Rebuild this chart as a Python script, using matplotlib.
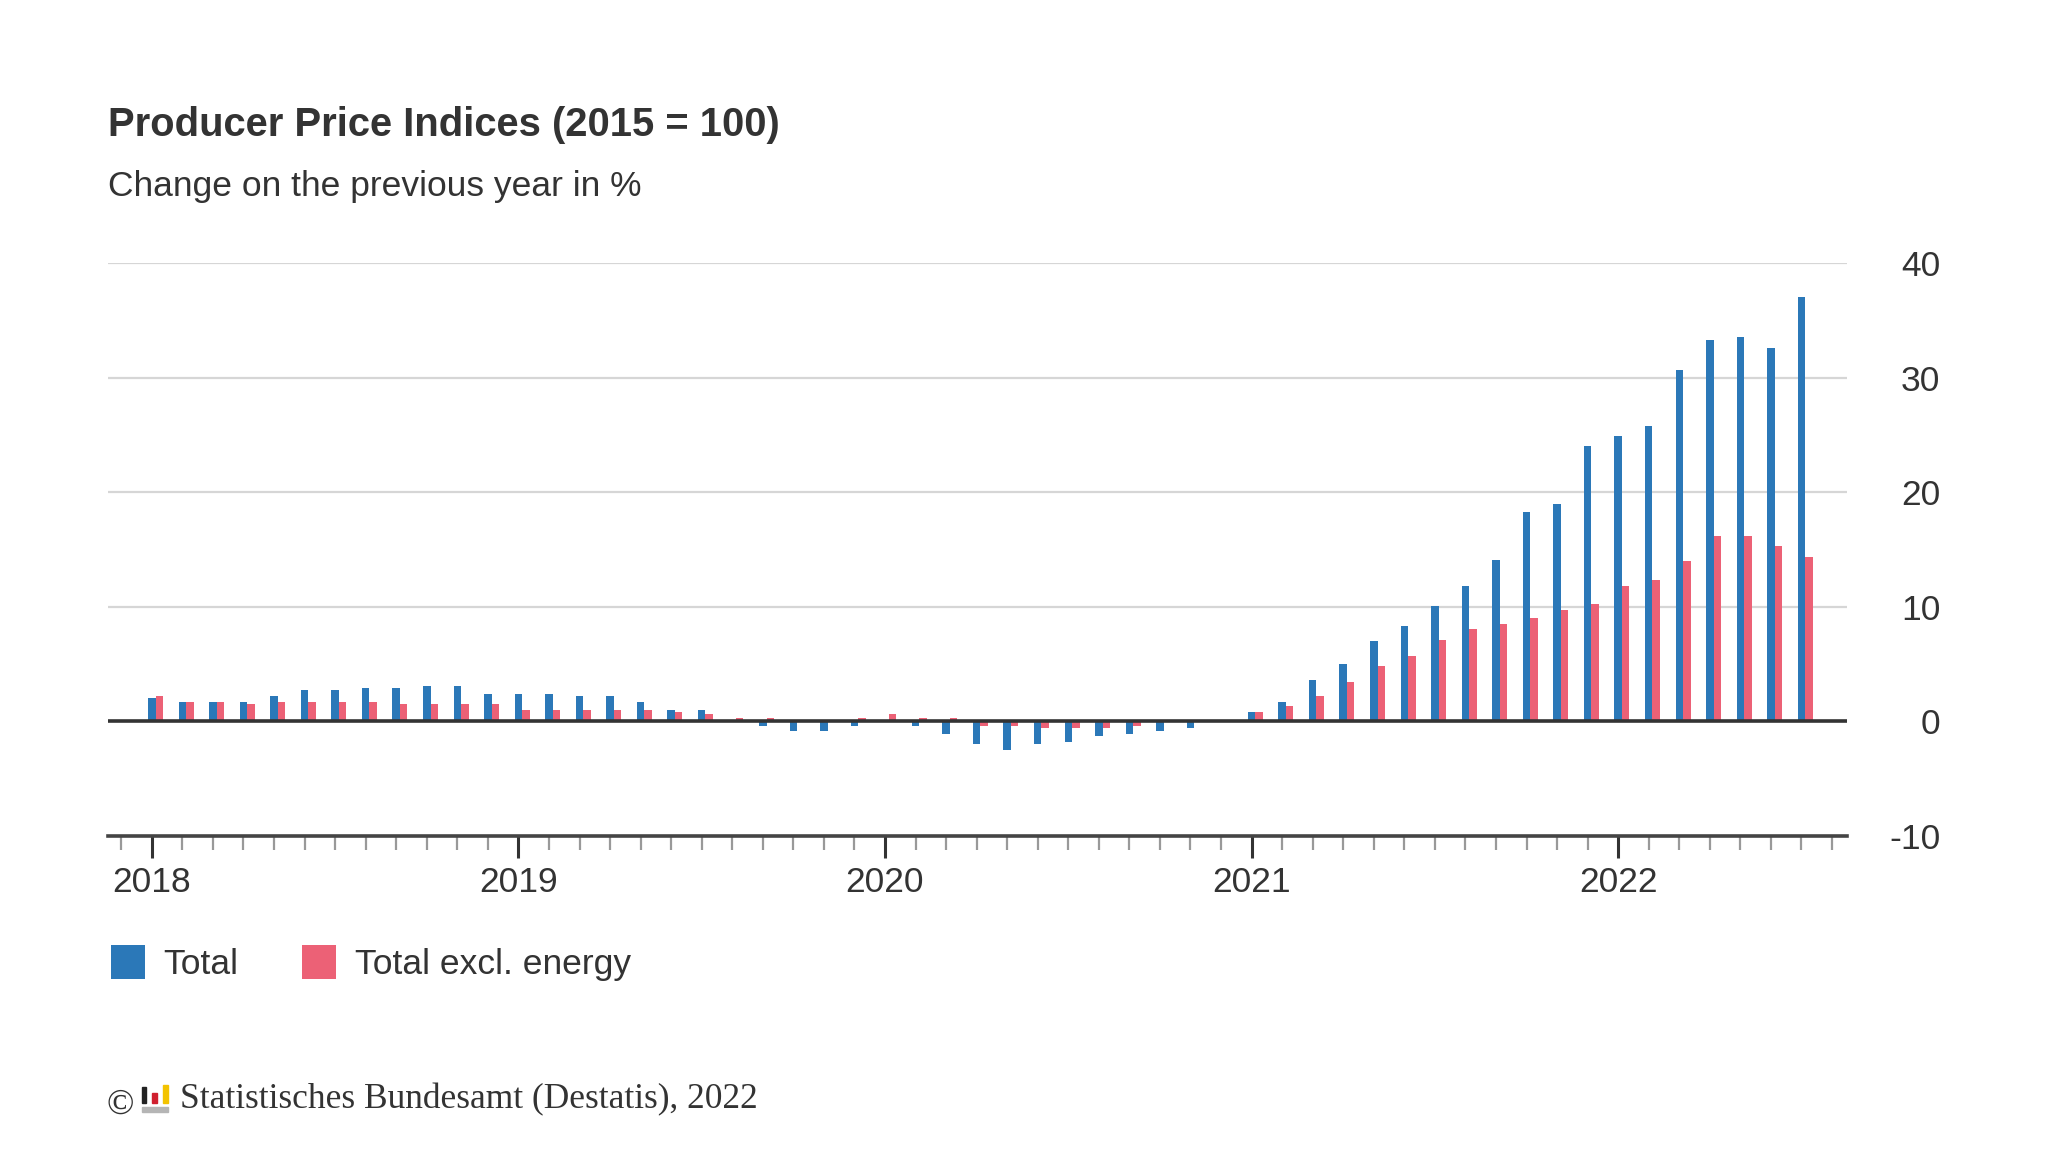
import numpy as np
import matplotlib
matplotlib.use("Agg")
import matplotlib.pyplot as plt
from matplotlib.patches import Patch, Rectangle

plt.rcParams['font.family'] = ['Liberation Sans', 'DejaVu Sans']

# year-on-year change in %, Jan 2018 .. Jul 2022
total = [2.0, 1.7, 1.7, 1.7, 2.2, 2.7, 2.7, 2.9, 2.9, 3.1, 3.1, 2.4,
         2.4, 2.4, 2.2, 2.2, 1.7, 1.0, 1.0, 0.1, -0.4, -0.85, -0.85, -0.4,
         0.1, -0.4, -1.1, -2.0, -2.5, -2.0, -1.8, -1.3, -1.1, -0.85, -0.6, 0.1,
         0.8, 1.7, 3.6, 5.0, 7.0, 8.3, 10.1, 11.8, 14.1, 18.3, 19.0, 24.0,
         24.9, 25.8, 30.7, 33.3, 33.5, 32.6, 37.0]
excl_energy = [2.2, 1.7, 1.7, 1.5, 1.7, 1.7, 1.7, 1.7, 1.5, 1.5, 1.5, 1.5,
               1.0, 1.0, 1.0, 1.0, 1.0, 0.8, 0.6, 0.3, 0.3, 0.1, 0.1, 0.3,
               0.6, 0.3, 0.3, -0.4, -0.4, -0.6, -0.6, -0.6, -0.4, 0.0, 0.1, 0.1,
               0.8, 1.3, 2.2, 3.4, 4.8, 5.7, 7.1, 8.1, 8.5, 9.0, 9.7, 10.2,
               11.8, 12.3, 14.0, 16.2, 16.2, 15.3, 14.3]
years = ["2018", "2019", "2020", "2021", "2022"]
y_ticks = [-10, 0, 10, 20, 30, 40]
series_labels = ["Total", "Total excl. energy"]

blue = "#2b78b8"
red = "#ec6176"
dark = "#333333"

fig = plt.figure(figsize=(20.48, 11.52), dpi=100)
ax = fig.add_axes([0.0525, 0.2744, 0.8495, 0.4973])

x = np.arange(len(total))
w = 0.245
ax.bar(x, total, width=w, color=blue, zorder=3)
ax.bar(x + w, excl_energy, width=w, color=red, zorder=3)

ax.set_xlim(-1.45, 55.5)
ax.set_ylim(-10, 40)

# grid + zero line
for v in y_ticks[2:]:
    ax.axhline(v, color="#d6d6d6", linewidth=1.6, zorder=1)
ax.axhline(0, color=dark, linewidth=2.6, zorder=4)

for s in ["top", "left", "right"]:
    ax.spines[s].set_visible(False)
ax.spines["bottom"].set_color("#444444")
ax.spines["bottom"].set_linewidth(2.6)

# month ticks (minor) and year ticks (major)
ax.set_xticks(np.arange(-1, 56), minor=True)
ax.set_xticks(np.arange(len(years)) * 12)
ax.set_xticklabels(years, fontsize=25.5, color=dark)
ax.tick_params(axis="x", which="minor", length=10, width=1.6, color="#999999")
ax.tick_params(axis="x", which="major", length=16, width=2.2, color=dark, pad=6)

ax.yaxis.tick_right()
ax.set_yticks(y_ticks)
ax.set_yticklabels([str(v) for v in y_ticks], fontsize=25.5, color=dark)
ax.tick_params(axis="y", length=0, pad=67)
for lbl in ax.get_yticklabels():
    lbl.set_horizontalalignment("right")

# titles
fig.text(0.0525, 0.882, "Producer Price Indices (2015 = 100)", fontsize=28.8,
         fontweight="bold", color=dark, va="baseline")
fig.text(0.0525, 0.830, "Change on the previous year in %", fontsize=25.5,
         color=dark, va="baseline")

# legend
handles = [Patch(facecolor=blue), Patch(facecolor=red)]
fig.legend(handles, series_labels, loc="center left", bbox_to_anchor=(0.0542, 0.164),
           ncol=2, frameon=False, fontsize=25.5, handlelength=0.96, handleheight=1.12,
           handletextpad=0.52, columnspacing=1.8, borderpad=0, borderaxespad=0,
           labelcolor=dark)

# source line with small logo
fig.text(0.0522, 0.033, "\u00a9", fontsize=26, family="Liberation Serif", color=dark, va="baseline")
fig.patches.append(Rectangle((0.0693, 0.0425), 0.0021, 0.0139, transform=fig.transFigure, color="#222222"))
fig.patches.append(Rectangle((0.0742, 0.0425), 0.0024, 0.0087, transform=fig.transFigure, color="#d0202f"))
fig.patches.append(Rectangle((0.0796, 0.0425), 0.0024, 0.0156, transform=fig.transFigure, color="#f3c300"))
fig.patches.append(Rectangle((0.0693, 0.0347), 0.0127, 0.0043, transform=fig.transFigure, color="#b5b5b5"))
fig.text(0.0879, 0.0382, "Statistisches Bundesamt (Destatis), 2022", fontsize=25.5,
         family="Liberation Serif", color=dark, va="baseline")

fig.savefig("out.png", dpi=100, facecolor="white")
